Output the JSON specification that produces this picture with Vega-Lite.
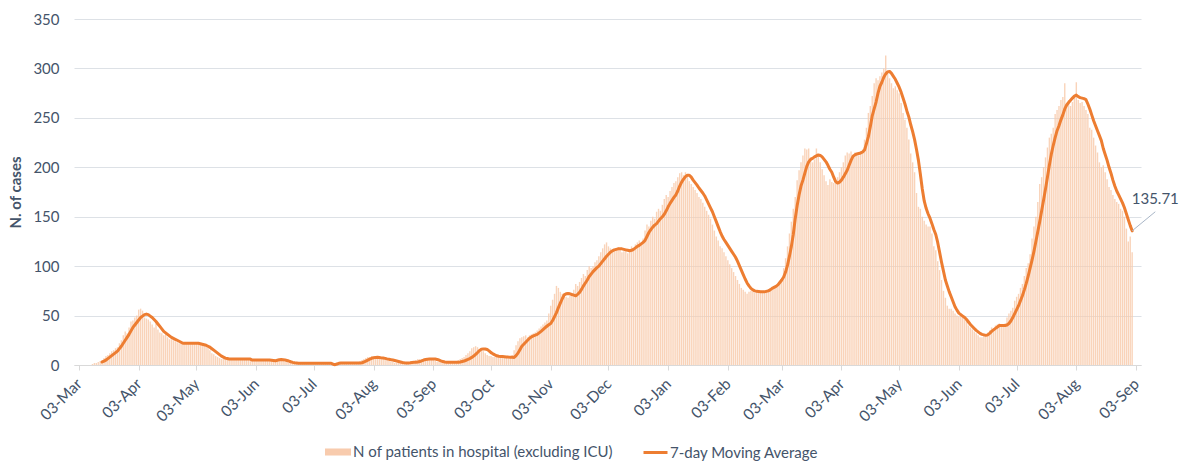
{
"$schema":"https://vega.github.io/schema/vega-lite/v6.json",
"width":1067,"height":346,
"autosize":{"type":"none"},
"padding":{"left":74,"top":19,"right":51,"bottom":99},
"background":"white",
"config":{"view":{"stroke":null},"font":"Lato"},
"datasets":{
"note":[{"d":"2021-09-01","v":135.71,"d2":"2021-09-13","v2":155,"label":"135.71"}],
"daily":[
{"d":"2020-03-10","n":1},{"d":"2020-03-11","n":2},{"d":"2020-03-12","n":2},{"d":"2020-03-13","n":3},{"d":"2020-03-14","n":4},
{"d":"2020-03-15","n":5,"m":3},{"d":"2020-03-16","n":7,"m":4},{"d":"2020-03-17","n":9,"m":5},{"d":"2020-03-18","n":10,"m":6.5},{"d":"2020-03-19","n":12,"m":8},{"d":"2020-03-20","n":14,"m":9.5},{"d":"2020-03-21","n":15,"m":11},{"d":"2020-03-22","n":17,"m":12.5},{"d":"2020-03-23","n":18,"m":14},{"d":"2020-03-24","n":22,"m":16.5},{"d":"2020-03-25","n":25,"m":19},{"d":"2020-03-26","n":30,"m":22},{"d":"2020-03-27","n":34,"m":25},{"d":"2020-03-28","n":32,"m":28},{"d":"2020-03-29","n":38,"m":31},{"d":"2020-03-30","n":44,"m":34.5},{"d":"2020-03-31","n":45,"m":38},
{"d":"2020-04-01","n":48,"m":40.5},{"d":"2020-04-02","n":50,"m":43},{"d":"2020-04-03","n":56,"m":45.5},{"d":"2020-04-04","n":57,"m":48},{"d":"2020-04-05","n":55,"m":49.5},{"d":"2020-04-06","n":48,"m":51},{"d":"2020-04-07","n":47,"m":51.5},{"d":"2020-04-08","n":46,"m":51},{"d":"2020-04-09","n":44,"m":49.5},{"d":"2020-04-10","n":41,"m":48},{"d":"2020-04-11","n":38,"m":46},{"d":"2020-04-12","n":42,"m":44},{"d":"2020-04-13","n":36,"m":41.5},{"d":"2020-04-14","n":33,"m":39},{"d":"2020-04-15","n":32,"m":36.5},{"d":"2020-04-16","n":30,"m":34},{"d":"2020-04-17","n":33,"m":32.5},{"d":"2020-04-18","n":28,"m":31},{"d":"2020-04-19","n":26,"m":29.5},{"d":"2020-04-20","n":26,"m":28},{"d":"2020-04-21","n":25,"m":27},{"d":"2020-04-22","n":24,"m":26},{"d":"2020-04-23","n":23,"m":25},{"d":"2020-04-24","n":22,"m":24},{"d":"2020-04-25","n":24,"m":23},{"d":"2020-04-26","n":21,"m":22},{"d":"2020-04-27","n":22,"m":22},{"d":"2020-04-28","n":23,"m":22},{"d":"2020-04-29","n":22,"m":22},{"d":"2020-04-30","n":21,"m":22},
{"d":"2020-05-01","n":22,"m":22},{"d":"2020-05-02","n":23,"m":22},{"d":"2020-05-03","n":22,"m":22},{"d":"2020-05-04","n":21,"m":22},{"d":"2020-05-05","n":22,"m":21.5},{"d":"2020-05-06","n":21,"m":21},{"d":"2020-05-07","n":20,"m":20.5},{"d":"2020-05-08","n":19,"m":20},{"d":"2020-05-09","n":18,"m":19},{"d":"2020-05-10","n":15,"m":18},{"d":"2020-05-11","n":12,"m":16.5},{"d":"2020-05-12","n":11,"m":15},{"d":"2020-05-13","n":9,"m":13.5},{"d":"2020-05-14","n":8,"m":12},{"d":"2020-05-15","n":7,"m":10.5},{"d":"2020-05-16","n":6,"m":9},{"d":"2020-05-17","n":6,"m":8},{"d":"2020-05-18","n":6,"m":7},{"d":"2020-05-19","n":7,"m":6.5},{"d":"2020-05-20","n":6,"m":6},{"d":"2020-05-21","n":6,"m":6},{"d":"2020-05-22","n":6,"m":6},{"d":"2020-05-23","n":7,"m":6},{"d":"2020-05-24","n":6,"m":6},{"d":"2020-05-25","n":6,"m":6},{"d":"2020-05-26","n":6,"m":6},{"d":"2020-05-27","n":5,"m":6},{"d":"2020-05-28","n":6,"m":6},{"d":"2020-05-29","n":6,"m":6},{"d":"2020-05-30","n":5,"m":6},{"d":"2020-05-31","n":5,"m":6},
{"d":"2020-06-01","n":5,"m":5},{"d":"2020-06-02","n":5,"m":5},{"d":"2020-06-03","n":5,"m":5},{"d":"2020-06-04","n":5,"m":5},{"d":"2020-06-05","n":5,"m":5},{"d":"2020-06-06","n":5,"m":5},{"d":"2020-06-07","n":5,"m":5},{"d":"2020-06-08","n":4,"m":5},{"d":"2020-06-09","n":4,"m":5},{"d":"2020-06-10","n":4,"m":5},{"d":"2020-06-11","n":5,"m":4.8},{"d":"2020-06-12","n":6,"m":4.5},{"d":"2020-06-13","n":6,"m":4.2},{"d":"2020-06-14","n":6,"m":4.8},{"d":"2020-06-15","n":5,"m":5.3},{"d":"2020-06-16","n":5,"m":5.5},{"d":"2020-06-17","n":4,"m":5.3},{"d":"2020-06-18","n":3,"m":5},{"d":"2020-06-19","n":3,"m":4.5},{"d":"2020-06-20","n":2,"m":4},{"d":"2020-06-21","n":2,"m":3.3},{"d":"2020-06-22","n":2,"m":2.7},{"d":"2020-06-23","n":2,"m":2.2},{"d":"2020-06-24","n":2,"m":2},{"d":"2020-06-25","n":2,"m":1.7},{"d":"2020-06-26","n":2,"m":1.7},{"d":"2020-06-27","n":2,"m":1.7},{"d":"2020-06-28","n":1,"m":1.7},{"d":"2020-06-29","n":2,"m":1.7},{"d":"2020-06-30","n":2,"m":1.7},
{"d":"2020-07-01","n":2,"m":1.7},{"d":"2020-07-02","n":2,"m":1.7},{"d":"2020-07-03","n":2,"m":1.7},{"d":"2020-07-04","n":1,"m":1.7},{"d":"2020-07-05","n":2,"m":1.7},{"d":"2020-07-06","n":2,"m":1.7},{"d":"2020-07-07","n":2,"m":1.7},{"d":"2020-07-08","n":2,"m":1.7},{"d":"2020-07-09","n":1,"m":1.7},{"d":"2020-07-10","n":1,"m":1.7},{"d":"2020-07-11","n":1,"m":1.7},{"d":"2020-07-12","n":0,"m":1.7},{"d":"2020-07-13","n":0,"m":0.8},{"d":"2020-07-14","n":1,"m":0.3},{"d":"2020-07-15","n":2,"m":1},{"d":"2020-07-16","n":2,"m":1.7},{"d":"2020-07-17","n":2,"m":2},{"d":"2020-07-18","n":2,"m":2},{"d":"2020-07-19","n":2,"m":2},{"d":"2020-07-20","n":2,"m":2},{"d":"2020-07-21","n":2,"m":2},{"d":"2020-07-22","n":2,"m":2},{"d":"2020-07-23","n":2,"m":2},{"d":"2020-07-24","n":2,"m":2},{"d":"2020-07-25","n":2,"m":2},{"d":"2020-07-26","n":3,"m":2},{"d":"2020-07-27","n":4,"m":2},{"d":"2020-07-28","n":5,"m":2.3},{"d":"2020-07-29","n":6,"m":3},{"d":"2020-07-30","n":7,"m":4},{"d":"2020-07-31","n":8,"m":5},
{"d":"2020-08-01","n":8,"m":6},{"d":"2020-08-02","n":9,"m":6.8},{"d":"2020-08-03","n":8,"m":7.3},{"d":"2020-08-04","n":8,"m":7.7},{"d":"2020-08-05","n":7,"m":7.8},{"d":"2020-08-06","n":7,"m":7.5},{"d":"2020-08-07","n":7,"m":7.2},{"d":"2020-08-08","n":6,"m":7},{"d":"2020-08-09","n":6,"m":6.7},{"d":"2020-08-10","n":5,"m":6.2},{"d":"2020-08-11","n":4,"m":5.8},{"d":"2020-08-12","n":3,"m":5.4},{"d":"2020-08-13","n":3,"m":5},{"d":"2020-08-14","n":2,"m":4.5},{"d":"2020-08-15","n":2,"m":4},{"d":"2020-08-16","n":2,"m":3.5},{"d":"2020-08-17","n":2,"m":3},{"d":"2020-08-18","n":2,"m":2.5},{"d":"2020-08-19","n":3,"m":2.2},{"d":"2020-08-20","n":3,"m":2},{"d":"2020-08-21","n":3,"m":2},{"d":"2020-08-22","n":3,"m":2.2},{"d":"2020-08-23","n":3,"m":2.5},{"d":"2020-08-24","n":4,"m":2.7},{"d":"2020-08-25","n":5,"m":2.8},{"d":"2020-08-26","n":6,"m":3},{"d":"2020-08-27","n":6,"m":3.5},{"d":"2020-08-28","n":6,"m":4.2},{"d":"2020-08-29","n":6,"m":5},{"d":"2020-08-30","n":6,"m":5.5},{"d":"2020-08-31","n":6,"m":5.8},
{"d":"2020-09-01","n":6,"m":6},{"d":"2020-09-02","n":6,"m":6},{"d":"2020-09-03","n":5,"m":6},{"d":"2020-09-04","n":4,"m":6},{"d":"2020-09-05","n":3,"m":5.5},{"d":"2020-09-06","n":3,"m":5},{"d":"2020-09-07","n":3,"m":4.2},{"d":"2020-09-08","n":3,"m":3.5},{"d":"2020-09-09","n":3,"m":3},{"d":"2020-09-10","n":3,"m":2.8},{"d":"2020-09-11","n":2,"m":2.7},{"d":"2020-09-12","n":3,"m":2.7},{"d":"2020-09-13","n":3,"m":2.7},{"d":"2020-09-14","n":3,"m":2.7},{"d":"2020-09-15","n":4,"m":2.7},{"d":"2020-09-16","n":5,"m":2.7},{"d":"2020-09-17","n":6,"m":3},{"d":"2020-09-18","n":7,"m":3.5},{"d":"2020-09-19","n":8,"m":4},{"d":"2020-09-20","n":10,"m":4.8},{"d":"2020-09-21","n":12,"m":5.6},{"d":"2020-09-22","n":14,"m":6.5},{"d":"2020-09-23","n":17,"m":7.7},{"d":"2020-09-24","n":18,"m":9},{"d":"2020-09-25","n":19,"m":10.8},{"d":"2020-09-26","n":18,"m":12.6},{"d":"2020-09-27","n":16,"m":14.5},{"d":"2020-09-28","n":15,"m":16},{"d":"2020-09-29","n":14,"m":16.3},{"d":"2020-09-30","n":12,"m":16.2},
{"d":"2020-10-01","n":10,"m":15.7},{"d":"2020-10-02","n":9,"m":14.3},{"d":"2020-10-03","n":9,"m":12.5},{"d":"2020-10-04","n":8,"m":11.3},{"d":"2020-10-05","n":8,"m":10.2},{"d":"2020-10-06","n":9,"m":9.3},{"d":"2020-10-07","n":8,"m":8.8},{"d":"2020-10-08","n":8,"m":8.6},{"d":"2020-10-09","n":9,"m":8.5},{"d":"2020-10-10","n":8,"m":8.4},{"d":"2020-10-11","n":8,"m":8.2},{"d":"2020-10-12","n":7,"m":8},{"d":"2020-10-13","n":8,"m":7.9},{"d":"2020-10-14","n":10,"m":7.8},{"d":"2020-10-15","n":15,"m":7.7},{"d":"2020-10-16","n":20,"m":9.5},{"d":"2020-10-17","n":24,"m":12},{"d":"2020-10-18","n":27,"m":15.5},{"d":"2020-10-19","n":28,"m":19},{"d":"2020-10-20","n":29,"m":21},{"d":"2020-10-21","n":30,"m":23},{"d":"2020-10-22","n":28,"m":25},{"d":"2020-10-23","n":30,"m":27},{"d":"2020-10-24","n":31,"m":28.5},{"d":"2020-10-25","n":32,"m":29.5},{"d":"2020-10-26","n":33,"m":30.3},{"d":"2020-10-27","n":35,"m":31},{"d":"2020-10-28","n":37,"m":32.5},{"d":"2020-10-29","n":39,"m":34},{"d":"2020-10-30","n":41,"m":35.7},{"d":"2020-10-31","n":43,"m":37.5},
{"d":"2020-11-01","n":45,"m":39.2},{"d":"2020-11-02","n":52,"m":40.7},{"d":"2020-11-03","n":60,"m":42},{"d":"2020-11-04","n":66,"m":45},{"d":"2020-11-05","n":72,"m":49},{"d":"2020-11-06","n":80,"m":53},{"d":"2020-11-07","n":78,"m":58},{"d":"2020-11-08","n":74,"m":62.5},{"d":"2020-11-09","n":72,"m":67},{"d":"2020-11-10","n":70,"m":71},{"d":"2020-11-11","n":69,"m":72},{"d":"2020-11-12","n":68,"m":72.3},{"d":"2020-11-13","n":70,"m":72},{"d":"2020-11-14","n":72,"m":71.3},{"d":"2020-11-15","n":76,"m":70.7},{"d":"2020-11-16","n":82,"m":70},{"d":"2020-11-17","n":80,"m":71.5},{"d":"2020-11-18","n":84,"m":73.5},{"d":"2020-11-19","n":88,"m":76.5},{"d":"2020-11-20","n":92,"m":80},{"d":"2020-11-21","n":90,"m":83},{"d":"2020-11-22","n":96,"m":86},{"d":"2020-11-23","n":100,"m":89.5},{"d":"2020-11-24","n":98,"m":92},{"d":"2020-11-25","n":100,"m":94.5},{"d":"2020-11-26","n":104,"m":96.5},{"d":"2020-11-27","n":106,"m":98.5},{"d":"2020-11-28","n":110,"m":100},{"d":"2020-11-29","n":114,"m":102.5},{"d":"2020-11-30","n":118,"m":105},
{"d":"2020-12-01","n":122,"m":107.5},{"d":"2020-12-02","n":124,"m":110},{"d":"2020-12-03","n":120,"m":112},{"d":"2020-12-04","n":118,"m":114},{"d":"2020-12-05","n":116,"m":115.5},{"d":"2020-12-06","n":117,"m":116.5},{"d":"2020-12-07","n":118,"m":117},{"d":"2020-12-08","n":119,"m":117.5},{"d":"2020-12-09","n":117,"m":117.5},{"d":"2020-12-10","n":114,"m":117.5},{"d":"2020-12-11","n":115,"m":117},{"d":"2020-12-12","n":116,"m":116.5},{"d":"2020-12-13","n":113,"m":116},{"d":"2020-12-14","n":117,"m":115.5},{"d":"2020-12-15","n":120,"m":116},{"d":"2020-12-16","n":118,"m":117},{"d":"2020-12-17","n":122,"m":118.5},{"d":"2020-12-18","n":124,"m":120},{"d":"2020-12-19","n":126,"m":121},{"d":"2020-12-20","n":122,"m":122.5},{"d":"2020-12-21","n":128,"m":124},{"d":"2020-12-22","n":136,"m":126},{"d":"2020-12-23","n":142,"m":130},{"d":"2020-12-24","n":140,"m":134},{"d":"2020-12-25","n":146,"m":137},{"d":"2020-12-26","n":150,"m":139.5},{"d":"2020-12-27","n":148,"m":141.5},{"d":"2020-12-28","n":155,"m":143},{"d":"2020-12-29","n":158,"m":145.5},{"d":"2020-12-30","n":156,"m":148},{"d":"2020-12-31","n":162,"m":150},
{"d":"2021-01-01","n":168,"m":152.5},{"d":"2021-01-02","n":172,"m":156},{"d":"2021-01-03","n":170,"m":160},{"d":"2021-01-04","n":176,"m":163.5},{"d":"2021-01-05","n":180,"m":166.5},{"d":"2021-01-06","n":184,"m":169.5},{"d":"2021-01-07","n":186,"m":172},{"d":"2021-01-08","n":190,"m":176},{"d":"2021-01-09","n":194,"m":181},{"d":"2021-01-10","n":195,"m":185},{"d":"2021-01-11","n":192,"m":188},{"d":"2021-01-12","n":195,"m":190.5},{"d":"2021-01-13","n":190,"m":192},{"d":"2021-01-14","n":186,"m":192},{"d":"2021-01-15","n":183,"m":190},{"d":"2021-01-16","n":180,"m":187},{"d":"2021-01-17","n":177,"m":184.5},{"d":"2021-01-18","n":174,"m":182},{"d":"2021-01-19","n":170,"m":179},{"d":"2021-01-20","n":168,"m":176.5},{"d":"2021-01-21","n":164,"m":174},{"d":"2021-01-22","n":160,"m":171},{"d":"2021-01-23","n":156,"m":167},{"d":"2021-01-24","n":152,"m":163},{"d":"2021-01-25","n":148,"m":159},{"d":"2021-01-26","n":142,"m":155},{"d":"2021-01-27","n":136,"m":150},{"d":"2021-01-28","n":130,"m":145},{"d":"2021-01-29","n":126,"m":140},{"d":"2021-01-30","n":120,"m":135},{"d":"2021-01-31","n":118,"m":130.5},
{"d":"2021-02-01","n":114,"m":127},{"d":"2021-02-02","n":110,"m":124},{"d":"2021-02-03","n":106,"m":121},{"d":"2021-02-04","n":102,"m":118},{"d":"2021-02-05","n":98,"m":115},{"d":"2021-02-06","n":94,"m":112},{"d":"2021-02-07","n":90,"m":109},{"d":"2021-02-08","n":86,"m":105},{"d":"2021-02-09","n":82,"m":100.5},{"d":"2021-02-10","n":78,"m":96},{"d":"2021-02-11","n":76,"m":91.5},{"d":"2021-02-12","n":74,"m":87},{"d":"2021-02-13","n":72,"m":83},{"d":"2021-02-14","n":74,"m":80},{"d":"2021-02-15","n":75,"m":77.5},{"d":"2021-02-16","n":74,"m":76},{"d":"2021-02-17","n":73,"m":75},{"d":"2021-02-18","n":74,"m":74.5},{"d":"2021-02-19","n":75,"m":74.3},{"d":"2021-02-20","n":73,"m":74},{"d":"2021-02-21","n":74,"m":74},{"d":"2021-02-22","n":75,"m":74},{"d":"2021-02-23","n":76,"m":74.5},{"d":"2021-02-24","n":77,"m":75},{"d":"2021-02-25","n":78,"m":76},{"d":"2021-02-26","n":79,"m":77.5},{"d":"2021-02-27","n":80,"m":78.5},{"d":"2021-02-28","n":81,"m":79.5},
{"d":"2021-03-01","n":82,"m":81},{"d":"2021-03-02","n":84,"m":83.5},{"d":"2021-03-03","n":88,"m":86},{"d":"2021-03-04","n":98,"m":89},{"d":"2021-03-05","n":108,"m":94},{"d":"2021-03-06","n":120,"m":101},{"d":"2021-03-07","n":133,"m":110},{"d":"2021-03-08","n":145,"m":120},{"d":"2021-03-09","n":158,"m":132},{"d":"2021-03-10","n":170,"m":148},{"d":"2021-03-11","n":187,"m":161},{"d":"2021-03-12","n":197,"m":172},{"d":"2021-03-13","n":205,"m":181},{"d":"2021-03-14","n":212,"m":187},{"d":"2021-03-15","n":219,"m":194},{"d":"2021-03-16","n":218,"m":201},{"d":"2021-03-17","n":219,"m":205.5},{"d":"2021-03-18","n":210,"m":208},{"d":"2021-03-19","n":205,"m":209},{"d":"2021-03-20","n":208,"m":210.5},{"d":"2021-03-21","n":219,"m":211.5},{"d":"2021-03-22","n":212,"m":212.5},{"d":"2021-03-23","n":205,"m":212},{"d":"2021-03-24","n":198,"m":210.5},{"d":"2021-03-25","n":192,"m":208},{"d":"2021-03-26","n":186,"m":205.5},{"d":"2021-03-27","n":182,"m":202},{"d":"2021-03-28","n":188,"m":198},{"d":"2021-03-29","n":185,"m":195},{"d":"2021-03-30","n":184,"m":190},{"d":"2021-03-31","n":186,"m":185.5},
{"d":"2021-04-01","n":190,"m":184},{"d":"2021-04-02","n":195,"m":185},{"d":"2021-04-03","n":200,"m":187},{"d":"2021-04-04","n":205,"m":190},{"d":"2021-04-05","n":212,"m":193.5},{"d":"2021-04-06","n":215,"m":197},{"d":"2021-04-07","n":214,"m":202},{"d":"2021-04-08","n":216,"m":207},{"d":"2021-04-09","n":213,"m":211},{"d":"2021-04-10","n":215,"m":212.5},{"d":"2021-04-11","n":214,"m":213.5},{"d":"2021-04-12","n":212,"m":214},{"d":"2021-04-13","n":216,"m":214.5},{"d":"2021-04-14","n":218,"m":215.5},{"d":"2021-04-15","n":228,"m":217.5},{"d":"2021-04-16","n":240,"m":224},{"d":"2021-04-17","n":255,"m":231},{"d":"2021-04-18","n":262,"m":241},{"d":"2021-04-19","n":272,"m":252},{"d":"2021-04-20","n":285,"m":259},{"d":"2021-04-21","n":290,"m":266},{"d":"2021-04-22","n":288,"m":275},{"d":"2021-04-23","n":292,"m":282},{"d":"2021-04-24","n":296,"m":286},{"d":"2021-04-25","n":300,"m":291},{"d":"2021-04-26","n":313,"m":294.5},{"d":"2021-04-27","n":298,"m":296.5},{"d":"2021-04-28","n":290,"m":297},{"d":"2021-04-29","n":285,"m":295},{"d":"2021-04-30","n":280,"m":292},
{"d":"2021-05-01","n":282,"m":289},{"d":"2021-05-02","n":278,"m":285},{"d":"2021-05-03","n":275,"m":281},{"d":"2021-05-04","n":265,"m":276},{"d":"2021-05-05","n":255,"m":270},{"d":"2021-05-06","n":248,"m":264},{"d":"2021-05-07","n":240,"m":257},{"d":"2021-05-08","n":228,"m":251},{"d":"2021-05-09","n":214,"m":243},{"d":"2021-05-10","n":205,"m":236},{"d":"2021-05-11","n":195,"m":228},{"d":"2021-05-12","n":174,"m":218},{"d":"2021-05-13","n":160,"m":207},{"d":"2021-05-14","n":158,"m":193},{"d":"2021-05-15","n":150,"m":178},{"d":"2021-05-16","n":146,"m":166},{"d":"2021-05-17","n":142,"m":158.5},{"d":"2021-05-18","n":140,"m":153},{"d":"2021-05-19","n":140,"m":148.5},{"d":"2021-05-20","n":133,"m":143},{"d":"2021-05-21","n":120,"m":137},{"d":"2021-05-22","n":116,"m":132},{"d":"2021-05-23","n":105,"m":124},{"d":"2021-05-24","n":96,"m":114},{"d":"2021-05-25","n":86,"m":104},{"d":"2021-05-26","n":75,"m":95},{"d":"2021-05-27","n":68,"m":86},{"d":"2021-05-28","n":60,"m":80},{"d":"2021-05-29","n":57,"m":74},{"d":"2021-05-30","n":57,"m":69},{"d":"2021-05-31","n":55,"m":64},
{"d":"2021-06-01","n":52,"m":59},{"d":"2021-06-02","n":50,"m":55.5},{"d":"2021-06-03","n":49,"m":52.5},{"d":"2021-06-04","n":50,"m":51},{"d":"2021-06-05","n":48,"m":49.5},{"d":"2021-06-06","n":46,"m":48},{"d":"2021-06-07","n":44,"m":46},{"d":"2021-06-08","n":40,"m":43.5},{"d":"2021-06-09","n":38,"m":41},{"d":"2021-06-10","n":36,"m":39},{"d":"2021-06-11","n":34,"m":37},{"d":"2021-06-12","n":32,"m":35},{"d":"2021-06-13","n":30,"m":33.5},{"d":"2021-06-14","n":28,"m":32},{"d":"2021-06-15","n":28,"m":31},{"d":"2021-06-16","n":30,"m":30.5},{"d":"2021-06-17","n":29,"m":30},{"d":"2021-06-18","n":33,"m":30.5},{"d":"2021-06-19","n":35,"m":32},{"d":"2021-06-20","n":38,"m":34},{"d":"2021-06-21","n":37,"m":35.5},{"d":"2021-06-22","n":40,"m":37},{"d":"2021-06-23","n":41,"m":38.5},{"d":"2021-06-24","n":42,"m":40},{"d":"2021-06-25","n":40,"m":40},{"d":"2021-06-26","n":41,"m":40},{"d":"2021-06-27","n":42,"m":40},{"d":"2021-06-28","n":48,"m":40.5},{"d":"2021-06-29","n":52,"m":42},{"d":"2021-06-30","n":55,"m":44.5},
{"d":"2021-07-01","n":58,"m":48},{"d":"2021-07-02","n":65,"m":52},{"d":"2021-07-03","n":69,"m":56},{"d":"2021-07-04","n":72,"m":60},{"d":"2021-07-05","n":78,"m":65},{"d":"2021-07-06","n":82,"m":70},{"d":"2021-07-07","n":90,"m":76},{"d":"2021-07-08","n":98,"m":82.5},{"d":"2021-07-09","n":103,"m":90},{"d":"2021-07-10","n":112,"m":98},{"d":"2021-07-11","n":128,"m":106},{"d":"2021-07-12","n":140,"m":115},{"d":"2021-07-13","n":150,"m":125},{"d":"2021-07-14","n":165,"m":135},{"d":"2021-07-15","n":183,"m":145},{"d":"2021-07-16","n":190,"m":156},{"d":"2021-07-17","n":200,"m":167},{"d":"2021-07-18","n":210,"m":178},{"d":"2021-07-19","n":220,"m":190},{"d":"2021-07-20","n":230,"m":202},{"d":"2021-07-21","n":234,"m":213},{"d":"2021-07-22","n":240,"m":222},{"d":"2021-07-23","n":254,"m":230},{"d":"2021-07-24","n":258,"m":237},{"d":"2021-07-25","n":262,"m":242},{"d":"2021-07-26","n":268,"m":248},{"d":"2021-07-27","n":271,"m":253},{"d":"2021-07-28","n":285,"m":259},{"d":"2021-07-29","n":264,"m":263},{"d":"2021-07-30","n":268,"m":265.5},{"d":"2021-07-31","n":262,"m":267.7},
{"d":"2021-08-01","n":266,"m":270},{"d":"2021-08-02","n":270,"m":272},{"d":"2021-08-03","n":286,"m":273},{"d":"2021-08-04","n":268,"m":271.5},{"d":"2021-08-05","n":265,"m":270.5},{"d":"2021-08-06","n":266,"m":270},{"d":"2021-08-07","n":262,"m":269.5},{"d":"2021-08-08","n":258,"m":268.5},{"d":"2021-08-09","n":254,"m":264},{"d":"2021-08-10","n":240,"m":259},{"d":"2021-08-11","n":238,"m":253},{"d":"2021-08-12","n":230,"m":247},{"d":"2021-08-13","n":222,"m":242},{"d":"2021-08-14","n":215,"m":237},{"d":"2021-08-15","n":205,"m":232},{"d":"2021-08-16","n":200,"m":227},{"d":"2021-08-17","n":202,"m":219},{"d":"2021-08-18","n":195,"m":213},{"d":"2021-08-19","n":188,"m":207},{"d":"2021-08-20","n":180,"m":200},{"d":"2021-08-21","n":177,"m":194},{"d":"2021-08-22","n":172,"m":187},{"d":"2021-08-23","n":168,"m":181},{"d":"2021-08-24","n":165,"m":176},{"d":"2021-08-25","n":163,"m":172},{"d":"2021-08-26","n":158,"m":168},{"d":"2021-08-27","n":156,"m":164},{"d":"2021-08-28","n":150,"m":159},{"d":"2021-08-29","n":138,"m":153},{"d":"2021-08-30","n":125,"m":147},{"d":"2021-08-31","n":130,"m":141},
{"d":"2021-09-01","n":114,"m":135.71}
]},
"layer":[
{
"data":{"name":"daily"},
"mark":{"type":"bar","width":1.4,"opacity":0.85},
"encoding":{
"x":{"field":"d","type":"temporal",
"scale":{"type":"utc","domain":[{"year":2020,"month":3,"date":3,"utc":true},{"year":2021,"month":9,"date":3,"utc":true}]},
"axis":{"title":null,"grid":false,"format":"%d-%b","labelAngle":-45,"labelAlign":"right","labelBaseline":"middle","labelFont":"Lato","labelFontSize":15.5,"labelColor":"#44546A","labelPadding":11,"labelOverlap":false,"labelFlush":false,"domainColor":"#D9D9D9","tickColor":"#D9D9D9","tickSize":5,
"values":[{"year":2020,"month":3,"date":3,"utc":true},{"year":2020,"month":4,"date":3,"utc":true},{"year":2020,"month":5,"date":3,"utc":true},{"year":2020,"month":6,"date":3,"utc":true},{"year":2020,"month":7,"date":3,"utc":true},{"year":2020,"month":8,"date":3,"utc":true},{"year":2020,"month":9,"date":3,"utc":true},{"year":2020,"month":10,"date":3,"utc":true},{"year":2020,"month":11,"date":3,"utc":true},{"year":2020,"month":12,"date":3,"utc":true},{"year":2021,"month":1,"date":3,"utc":true},{"year":2021,"month":2,"date":3,"utc":true},{"year":2021,"month":3,"date":3,"utc":true},{"year":2021,"month":4,"date":3,"utc":true},{"year":2021,"month":5,"date":3,"utc":true},{"year":2021,"month":6,"date":3,"utc":true},{"year":2021,"month":7,"date":3,"utc":true},{"year":2021,"month":8,"date":3,"utc":true},{"year":2021,"month":9,"date":3,"utc":true}]}},
"y":{"field":"n","type":"quantitative","scale":{"domain":[0,350],"nice":false},
"axis":{"values":[0,50,100,150,200,250,300,350],"title":"N. of cases","titleFont":"Lato","titleFontSize":15,"titleFontWeight":"bold","titleColor":"#44546A","titlePadding":9,"labelFont":"Lato","labelFontSize":15,"labelColor":"#44546A","labelPadding":15,"domain":false,"ticks":false,"gridColor":"#DDE1E6","gridWidth":1}},
"fill":{"datum":"N of patients in hospital (excluding ICU)","scale":{"range":["#F8CBAD"]},
"legend":{"orient":"none","legendX":251,"legendY":420,"title":null,"padding":0,"symbolType":"M-1,-0.27H1V0.27H-1Z","symbolSize":676,"symbolStrokeWidth":0,"symbolOpacity":1,"labelFont":"Lato","labelFontSize":15,"labelColor":"#44546A","labelOffset":2,"labelLimit":0}}
}
},
{
"data":{"name":"daily"},
"transform":[{"filter":"isValid(datum.m)"}],
"mark":{"type":"line","strokeWidth":3,"strokeJoin":"round","strokeCap":"round"},
"encoding":{
"x":{"field":"d","type":"temporal"},
"y":{"field":"m","type":"quantitative"},
"stroke":{"datum":"7-day Moving Average","scale":{"range":["#ED7D31"]},
"legend":{"orient":"none","legendX":568,"legendY":420,"title":null,"padding":0,"symbolType":"stroke","symbolSize":576,"symbolStrokeWidth":3,"labelFont":"Lato","labelFontSize":15,"labelColor":"#44546A","labelOffset":1,"labelLimit":0}}
}
},
{
"data":{"name":"note"},
"mark":{"type":"rule","color":"#A9B6C7","strokeWidth":1},
"encoding":{"x":{"field":"d","type":"temporal"},"y":{"field":"v","type":"quantitative"},"x2":{"field":"d2"},"y2":{"field":"v2"}}
},
{
"data":{"name":"note"},
"mark":{"type":"text","font":"Lato","fontSize":15,"color":"#44546A","align":"center","baseline":"middle","dy":-13},
"encoding":{"x":{"field":"d2","type":"temporal"},"y":{"field":"v2","type":"quantitative"},"text":{"field":"label"}}
}
]
}
